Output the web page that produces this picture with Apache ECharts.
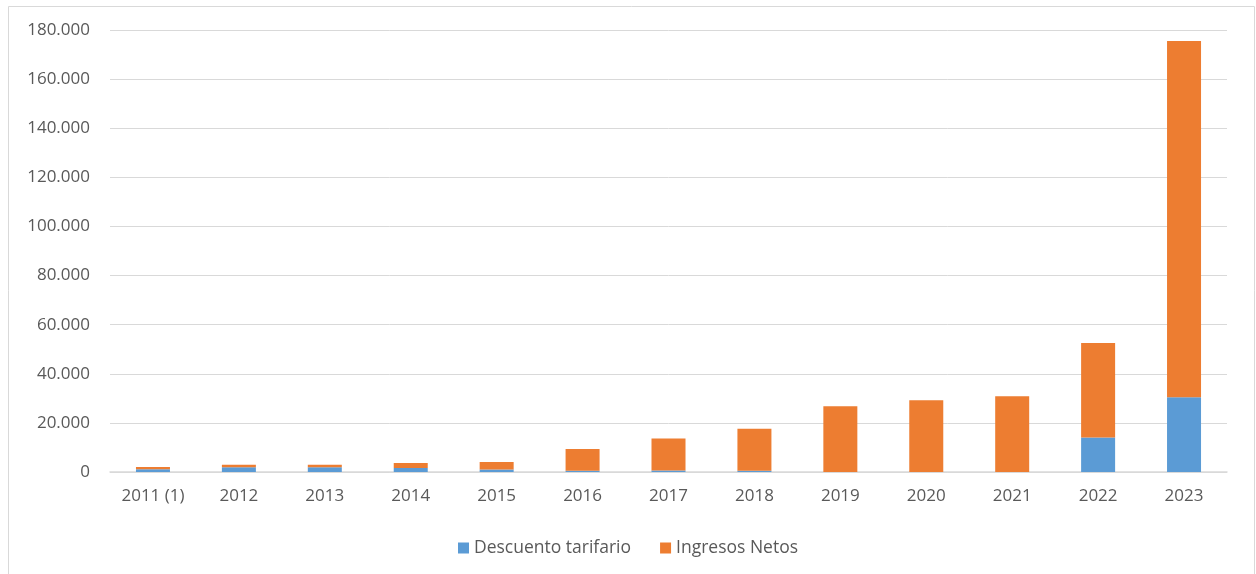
<!DOCTYPE html>
<html>
<head>
<meta charset="utf-8">
<script src="https://cdn.jsdelivr.net/npm/echarts@6/dist/echarts.min.js"></script>
<style>
html,body{margin:0;padding:0;background:#fff;}
#chart{width:1256px;height:574px;}
</style>
</head>
<body>
<div id="chart"></div>
<script>
const categories = ['2011 (1)','2012','2013','2014','2015','2016','2017','2018','2019','2020','2021','2022','2023'];
const descuentoTarifario = [1100, 1900, 1900, 1600, 1000, 500, 600, 500, 0, 0, 0, 14100, 30400];
const ingresosNetos = [900, 1100, 1100, 2100, 3100, 8900, 13000, 17100, 26800, 29200, 30800, 38400, 145100];
const seriesNames = ['Descuento tarifario', 'Ingresos Netos'];

const fmt = v => v === 0 ? '0' : String(v).replace(/\B(?=(\d{3})+(?!\d))/g, '.');
const FONT = 'Open Sans';
const chart = echarts.init(document.getElementById('chart'), null, {renderer: 'canvas'});
chart.setOption({
  animation: false,
  backgroundColor: '#fff',
  graphic: [{
    type: 'rect', left: 6, top: 4,
    shape: {width: 1246, height: 600},
    style: {fill: 'none', stroke: '#d9d9d9', lineWidth: 1}, silent: true
  }],
  grid: {left: 110, right: 29, top: 30, bottom: 102, containLabel: false},
  legend: {
    bottom: 12, left: 'center',
    itemWidth: 11, itemHeight: 11, itemGap: 29,
    icon: 'rect',
    textStyle: {fontFamily: FONT, fontSize: 17.5, color: '#595959'},
    data: seriesNames
  },
  xAxis: {
    type: 'category', data: categories,
    axisLine: {lineStyle: {color: '#d9d9d9', width: 1.5}},
    axisTick: {show: false},
    axisLabel: {fontFamily: FONT, fontSize: 17, color: '#595959', margin: 16}
  },
  yAxis: {
    type: 'value', min: 0, max: 180000, interval: 20000,
    axisLine: {show: false}, axisTick: {show: false},
    splitLine: {lineStyle: {color: '#d9d9d9', width: 1}},
    axisLabel: {fontFamily: FONT, fontSize: 17, color: '#595959', margin: 20, formatter: fmt}
  },
  series: [
    {name: seriesNames[0], type: 'bar', stack: 't', data: descuentoTarifario, barWidth: 34,
     itemStyle: {color: '#5B9BD5'}},
    {name: seriesNames[1], type: 'bar', stack: 't', data: ingresosNetos, barWidth: 34,
     itemStyle: {color: '#ED7D31'}}
  ]
});
</script>
</body>
</html>
